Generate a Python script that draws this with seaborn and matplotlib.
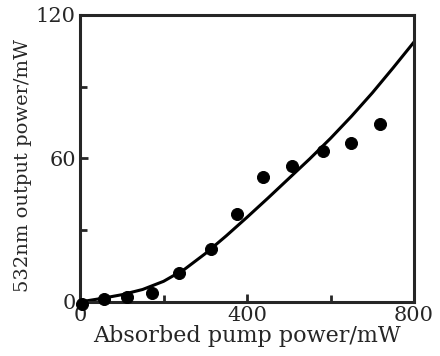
import matplotlib
matplotlib.use('Agg')
import matplotlib.pyplot as plt
import seaborn as sns
import pandas as pd
from matplotlib.ticker import MultipleLocator

# measured points
pump_power = [5, 57, 113, 172, 237, 314, 376, 438, 508, 582, 649, 719]
output_power = [-0.8, 1.3, 2.1, 3.8, 12.1, 22.2, 36.8, 52.3, 56.9, 63.1, 66.5, 74.4]

# fitted curve
fit_x = [0, 50, 100, 150, 200, 250, 300, 350, 400, 450, 500, 550, 600, 650, 700, 750, 800]
fit_y = [0, 1.4, 3.0, 5.2, 8.6, 13.6, 20.2, 27.6, 35.4, 43.4, 51.6, 59.8, 68.4, 77.6, 87.4, 97.9, 108.7]

sns.set_style("ticks")
plt.rcParams['font.family'] = ['DejaVu Serif']

fig = plt.figure(figsize=(4.4, 3.56), dpi=100)
ax = fig.add_axes([0.182, 0.152, 0.759, 0.806])

df_pts = pd.DataFrame({"x": pump_power, "y": output_power})
df_fit = pd.DataFrame({"x": fit_x, "y": fit_y})

sns.lineplot(data=df_fit, x="x", y="y", ax=ax, color="black", linewidth=2.2)
sns.scatterplot(data=df_pts, x="x", y="y", ax=ax, color="black", s=75,
                edgecolor="black", zorder=3, clip_on=False)

ax.set_xlim(0, 800)
ax.set_ylim(0, 120)
ax.set_xticks([0, 400, 800])
ax.set_yticks([0, 60, 120])
ax.xaxis.set_minor_locator(MultipleLocator(200))
ax.yaxis.set_minor_locator(MultipleLocator(30))
ax.tick_params(which="both", direction="in", width=2, labelsize=15, pad=3)
ax.tick_params(which="major", length=6)
ax.tick_params(which="minor", length=5)
for sp in ax.spines.values():
    sp.set_linewidth(2.2)
    sp.set_visible(True)

ax.set_xlabel("Absorbed pump power/mW", fontsize=16, labelpad=0)
ax.set_ylabel("532nm output power/mW", fontsize=14)
ax.yaxis.set_label_coords(-0.145, 0.475)

fig.savefig("out.png", dpi=100)
